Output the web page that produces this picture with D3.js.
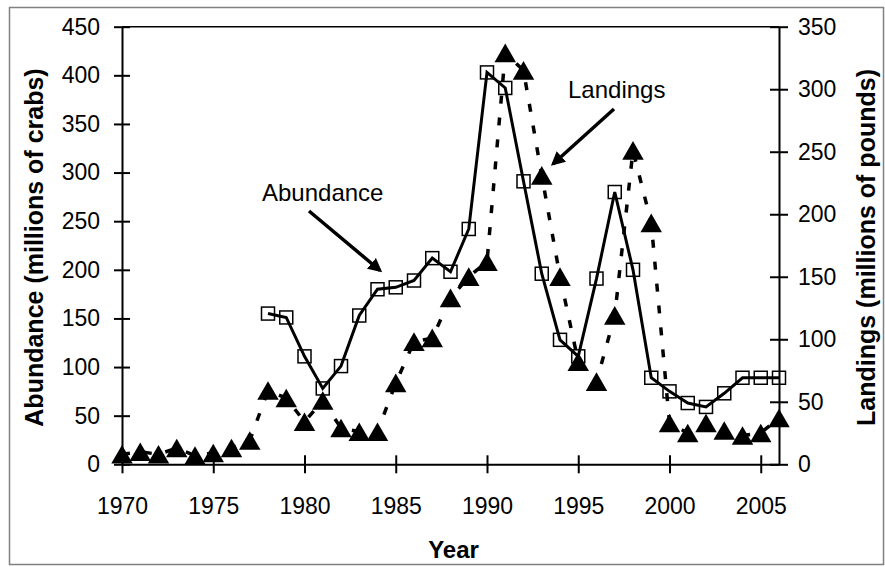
<!DOCTYPE html>
<html>
<head>
<meta charset="utf-8">
<script src="https://cdn.jsdelivr.net/npm/d3@7"></script>
<style>
  body { margin: 0; background: #fff; }
  svg { display: block; font-family: 'Liberation Sans', Arial, sans-serif; }
</style>
</head>
<body>
<div id="chart"></div>
<script>
const years = d3.range(1970, 2007);
const abundanceYears = d3.range(1978, 2007);
const abundance = [155, 151, 111, 78, 101, 153, 180, 182, 189, 212, 198, 242, 403, 387, 291,
  196, 128, 111, 191, 280, 200, 89, 75, 63, 59, 73, 89, 89, 89];
const landings = [8, 10, 8, 13, 7, 9, 13, 19, 59, 53,
  34, 51, 29, 26, 26, 65, 98, 101, 133, 150,
  162, 329, 315, 231, 150, 82, 66, 119, 251, 193,
  33, 25, 33, 27, 23, 25, 37];
const xTicks = [1970, 1975, 1980, 1985, 1990, 1995, 2000, 2005];
const leftTicks = [0, 50, 100, 150, 200, 250, 300, 350, 400, 450];
const rightTicks = [0, 50, 100, 150, 200, 250, 300, 350];

const W = 885, H = 567;
const plot = { left: 122, right: 779, top: 26.7, bottom: 464.3 };

const svg = d3.select('#chart').append('svg').attr('width', W).attr('height', H);

// outer frame
svg.append('rect')
  .attr('x', 9.5).attr('y', 7.5).attr('width', 874).attr('height', 557)
  .attr('fill', 'none').attr('stroke', '#808080').attr('stroke-width', 1.5);

const x = d3.scaleLinear().domain([1970, 2006]).range([plot.left, plot.right]);
const yL = d3.scaleLinear().domain([0, 450]).range([plot.bottom, plot.top]);
const yR = d3.scaleLinear().domain([0, 350]).range([plot.bottom, plot.top]);

// top border of plot area
svg.append('line')
  .attr('x1', plot.left).attr('x2', plot.right)
  .attr('y1', plot.top).attr('y2', plot.top)
  .attr('stroke', '#000').attr('stroke-width', 1.5);

const styleAxis = (g) => {
  g.select('.domain').attr('stroke', '#000').attr('stroke-width', 2);
  g.selectAll('.tick line').attr('stroke', '#000').attr('stroke-width', 2);
  g.selectAll('.tick text').attr('font-size', 23).attr('fill', '#000')
    .attr('font-family', "'Liberation Sans', Arial, sans-serif");
};

const xAxis = d3.axisBottom(x).tickValues(xTicks).tickFormat(d3.format('d'))
  .tickSize(9).tickSizeOuter(0).tickPadding(24);
svg.append('g').attr('transform', `translate(0, ${plot.bottom})`)
  .call(xAxis).call(styleAxis)
  .call((g) => g.selectAll('.tick line').attr('y1', -9));

const leftAxis = d3.axisLeft(yL).tickValues(leftTicks)
  .tickSize(8).tickSizeOuter(0).tickPadding(14);
svg.append('g').attr('transform', `translate(${plot.left}, 0)`)
  .call(leftAxis).call(styleAxis)
  .call((g) => g.selectAll('.tick line').attr('x1', 8));

const rightAxis = d3.axisRight(yR).tickValues(rightTicks)
  .tickSize(9).tickSizeOuter(0).tickPadding(10);
svg.append('g').attr('transform', `translate(${plot.right}, 0)`)
  .call(rightAxis).call(styleAxis)
  .call((g) => g.selectAll('.tick line').attr('x1', -9));

// axis titles
svg.append('text')
  .attr('transform', `translate(43, ${(plot.top + plot.bottom) / 2 + 2}) rotate(-90)`)
  .attr('text-anchor', 'middle').attr('font-size', 25).attr('font-weight', 'bold')
  .text('Abundance (millions of crabs)');
svg.append('text')
  .attr('transform', `translate(875, ${(plot.top + plot.bottom) / 2 + 2}) rotate(-90)`)
  .attr('text-anchor', 'middle').attr('font-size', 25).attr('font-weight', 'bold')
  .text('Landings (millions of pounds)');
svg.append('text')
  .attr('x', (plot.left + plot.right) / 2 + 3).attr('y', 558)
  .attr('text-anchor', 'middle').attr('font-size', 24).attr('font-weight', 'bold')
  .text('Year');

// landings: dashed line + triangles
const landLine = d3.line().x((d, i) => x(years[i])).y((d) => yR(d));
svg.append('path').datum(landings)
  .attr('d', landLine).attr('fill', 'none').attr('stroke', '#000')
  .attr('stroke-width', 3.5).attr('stroke-dasharray', '8,14');

// abundance: solid line + open squares
const abLine = d3.line().x((d, i) => x(abundanceYears[i])).y((d) => yL(d));
svg.append('path').datum(abundance)
  .attr('d', abLine).attr('fill', 'none').attr('stroke', '#000').attr('stroke-width', 3);

const sq = 13;
svg.append('g').selectAll('rect').data(abundance).join('rect')
  .attr('x', (d, i) => x(abundanceYears[i]) - sq / 2)
  .attr('y', (d) => yL(d) - sq / 2)
  .attr('width', sq).attr('height', sq)
  .attr('fill', 'none').attr('stroke', '#000').attr('stroke-width', 1.5);

// triangles centred on their box, like the spreadsheet markers
const tri = d3.symbol().type(d3.symbolTriangle).size(200);
svg.append('g').selectAll('path').data(landings).join('path')
  .attr('d', tri)
  .attr('transform', (d, i) => `translate(${x(years[i])}, ${yR(d) + 3})`)
  .attr('fill', '#000');

// annotations
const defs = svg.append('defs');
defs.append('marker')
  .attr('id', 'arrow').attr('viewBox', '0 0 10 10')
  .attr('refX', 8).attr('refY', 5)
  .attr('markerWidth', 4).attr('markerHeight', 4)
  .attr('orient', 'auto')
  .append('path').attr('d', 'M0,0 L10,5 L0,10 z').attr('fill', '#000');

svg.append('text').attr('x', 262).attr('y', 201).attr('font-size', 24).text('Abundance');
svg.append('line')
  .attr('x1', 309).attr('y1', 211).attr('x2', 380).attr('y2', 270.5)
  .attr('stroke', '#000').attr('stroke-width', 3.5).attr('marker-end', 'url(#arrow)');

svg.append('text').attr('x', 568).attr('y', 98).attr('font-size', 24).text('Landings');
svg.append('line')
  .attr('x1', 614).attr('y1', 109).attr('x2', 553).attr('y2', 164)
  .attr('stroke', '#000').attr('stroke-width', 3.5).attr('marker-end', 'url(#arrow)');
</script>
</body>
</html>
